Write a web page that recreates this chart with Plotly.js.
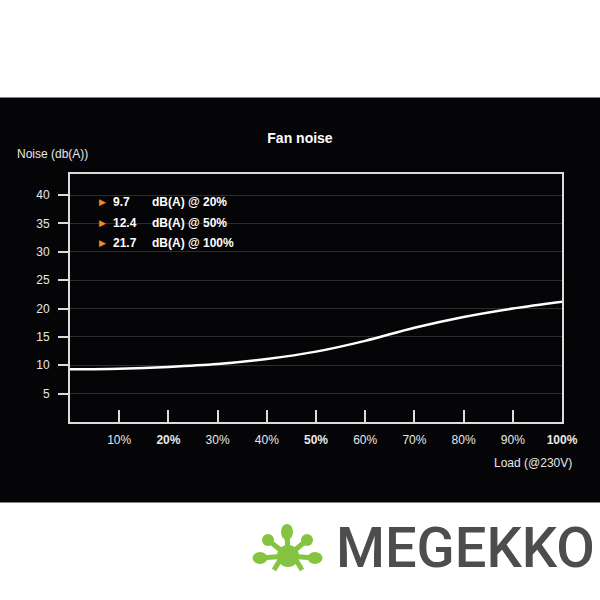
<!DOCTYPE html>
<html>
<head>
<meta charset="utf-8">
<script src="https://cdn.plot.ly/plotly-3.0.1.min.js"></script>
<style>html,body{margin:0;padding:0;background:#fff;}#chart{width:600px;height:600px;}</style>
</head>
<body>
<div id="chart"></div>
<script>
// ---- data ----
const loadPct = [0, 10, 20, 30, 40, 50, 60, 70, 80, 90, 100];
const noiseDb = [9.3, 9.4, 9.7, 10.2, 11.1, 12.4, 14.3, 16.6, 18.5, 20.0, 21.2];
const xTickVals = [10, 20, 30, 40, 50, 60, 70, 80, 90, 100];
const xTickText = ['10%', '<b>20%</b>', '30%', '40%', '<b>50%</b>', '60%', '70%', '80%', '90%', '<b>100%</b>'];
const yTickVals = [5, 10, 15, 20, 25, 30, 35, 40];
const noteNoise = ['9.7', '12.4', '21.7'];
const noteLoad = ['20%', '50%', '100%'];
const chartTitle = 'Fan noise';
const yTitle = 'Noise (db(A))';
const xTitle = 'Load (@230V)';
const logoText = 'MEGEKKO';

// ---- layout helpers (pixel -> paper) ----
const L = 70, R = 38, T = 174, B = 178, W = 600, H = 600;
const pw = W - L - R, ph = H - T - B;
const px = v => (v - L) / pw;
const py = v => (H - B - v) / ph;

const FONT = '"Liberation Sans", Arial, sans-serif';
const fg = '#e8e8e8';
const frame = '#dcdcdc';

const shapes = [
  {type:'rect', xref:'paper', yref:'paper', x0:px(-5), x1:px(605), y0:py(-5), y1:py(97.5), fillcolor:'#ffffff', line:{width:0}, layer:'below'},
  {type:'rect', xref:'paper', yref:'paper', x0:px(-5), x1:px(605), y0:py(502.5), y1:py(605), fillcolor:'#ffffff', line:{width:0}, layer:'below'}
];

// logo foot icon
const green = '#84c441';
const palm = [288, 556];
const toes = [[287, 532, 6, 8], [268, 540, 6, 6], [307, 540, 6, 6], [260, 558, 7.5, 6], [315, 558, 7.5, 6]];
toes.forEach(t => {
  shapes.push({type:'line', xref:'paper', yref:'paper', x0:px(palm[0]), y0:py(palm[1]), x1:px(t[0]), y1:py(t[1]), line:{color:green, width:5}});
  shapes.push({type:'circle', xref:'paper', yref:'paper', x0:px(t[0]-t[2]), x1:px(t[0]+t[2]), y0:py(t[1]-t[3]), y1:py(t[1]+t[3]), fillcolor:green, line:{width:0}});
});
shapes.push({type:'circle', xref:'paper', yref:'paper', x0:px(277), x1:px(299), y0:py(545), y1:py(567), fillcolor:green, line:{width:0}});
shapes.push({type:'line', xref:'paper', yref:'paper', x0:px(280), y0:py(560), x1:px(274), y1:py(570), line:{color:green, width:5}});
shapes.push({type:'line', xref:'paper', yref:'paper', x0:px(296), y0:py(560), x1:px(302), y1:py(570), line:{color:green, width:5}});

const annotations = [
  {text: yTitle, xref:'paper', yref:'paper', x:px(15), y:py(154), xanchor:'left', yanchor:'middle', showarrow:false, font:{family:FONT, size:12, color:fg}},
  {text: xTitle, xref:'paper', yref:'paper', x:px(574), y:py(463), xanchor:'right', yanchor:'middle', showarrow:false, font:{family:FONT, size:12, color:fg}},
  {text: logoText, xref:'paper', yref:'paper', x:px(465), y:py(548), xanchor:'center', yanchor:'middle', showarrow:false, font:{family:'Roboto, sans-serif', size:56, weight:500, color:'#4d4d4f'}}
];
const rowY = [202, 222.5, 243];
noteNoise.forEach((v, i) => {
  annotations.push({text:'▶', xref:'paper', yref:'paper', x:px(102), y:py(rowY[i]), xanchor:'center', yanchor:'middle', showarrow:false, font:{family:'DejaVu Sans', size:9, color:'#f08a24'}});
  annotations.push({text:'<b>' + v + '</b>', xref:'paper', yref:'paper', x:px(111), y:py(rowY[i]), xanchor:'left', yanchor:'middle', showarrow:false, font:{family:FONT, size:12, color:'#ffffff'}});
  annotations.push({text:'<b>dB(A) @ ' + noteLoad[i] + '</b>', xref:'paper', yref:'paper', x:px(150), y:py(rowY[i]), xanchor:'left', yanchor:'middle', showarrow:false, font:{family:FONT, size:12, color:'#ffffff'}});
});

const trace = {
  x: loadPct, y: noiseDb, type:'scatter', mode:'lines',
  line:{color:'#ffffff', width:2.5, shape:'spline', smoothing:1},
  hoverinfo:'skip'
};

const layout = {
  width: W, height: H,
  margin:{l:L, r:R, t:T, b:B, pad:0},
  paper_bgcolor:'#050507',
  plot_bgcolor:'#050507',
  showlegend:false,
  title:{text:'<b>' + chartTitle + '</b>', xref:'container', yref:'container', x:0.5, y:1 - 138/600, xanchor:'center', yanchor:'middle', font:{family:FONT, size:14, color:'#ffffff'}},
  xaxis:{
    range:[0, 100], tickmode:'array', tickvals:xTickVals, ticktext:xTickText,
    ticks:'inside', ticklen:12, tickwidth:2, tickcolor:frame,
    showline:true, linecolor:frame, linewidth:2, mirror:true,
    showgrid:false, zeroline:false, fixedrange:true,
    tickfont:{family:FONT, size:12, color:fg}, ticklabelstandoff:6
  },
  yaxis:{
    range:[0, 43.7], tickmode:'array', tickvals:yTickVals,
    ticks:'outside', ticklen:10, tickwidth:2, tickcolor:frame,
    showline:true, linecolor:frame, linewidth:2, mirror:true,
    showgrid:true, gridcolor:'#2c2c2c', gridwidth:1, zeroline:false, fixedrange:true,
    tickfont:{family:FONT, size:12, color:fg}, ticklabelstandoff:6
  },
  shapes: shapes,
  annotations: annotations
};

Plotly.newPlot('chart', [trace], layout, {displayModeBar:false, staticPlot:true});
</script>
</body>
</html>
